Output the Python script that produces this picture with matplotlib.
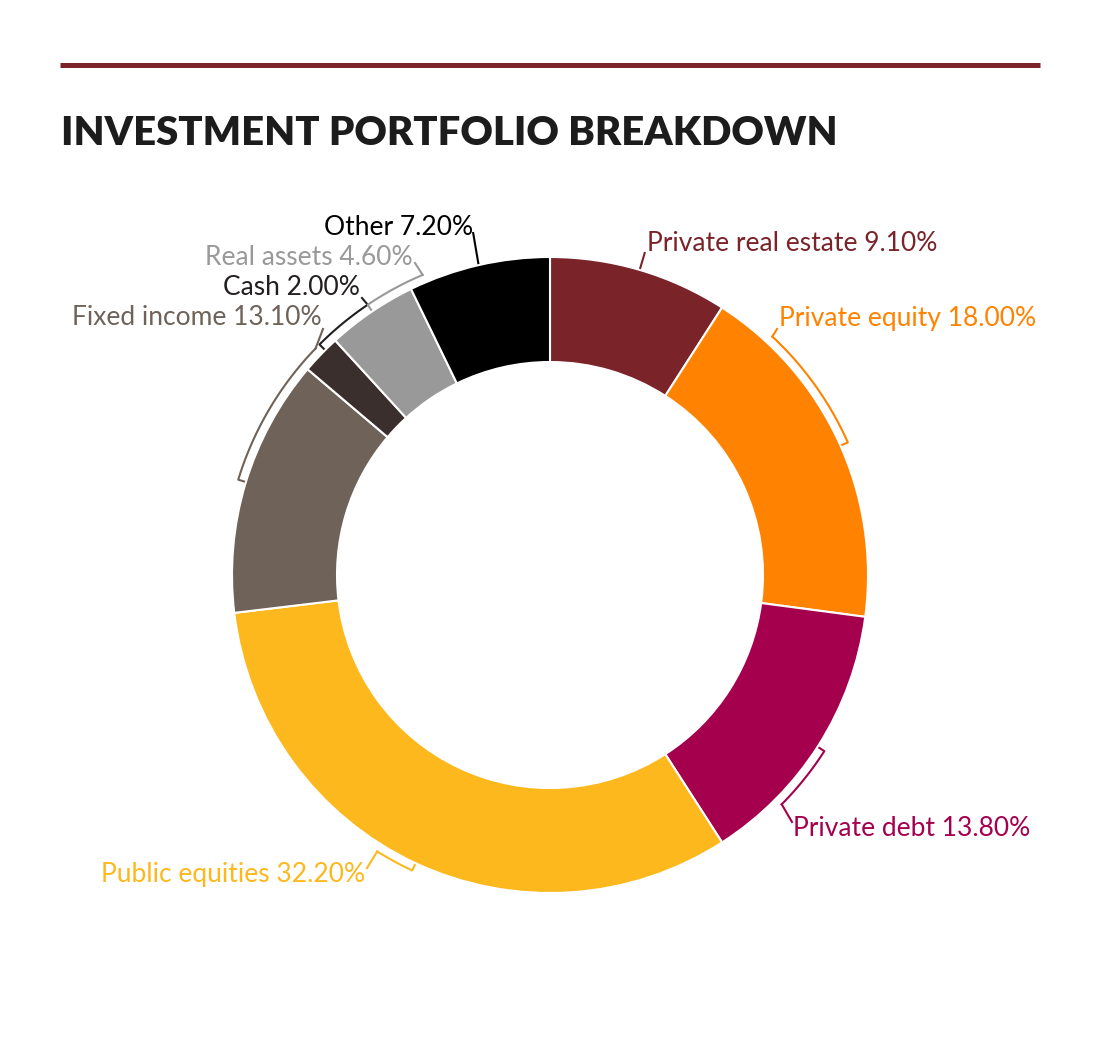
import numpy as np
import matplotlib.pyplot as plt

# data
labels = ["Private real estate", "Private equity", "Private debt", "Public equities",
          "Fixed income", "Cash", "Real assets", "Other"]
shares = [9.1, 18.0, 13.8, 32.2, 13.1, 2.0, 4.6, 7.2]
colors = ["#7a2329", "#ff8200", "#a5004e", "#fdb81e", "#6e6259", "#3a2f2c", "#999999", "#000000"]
text_colors = ["#7a2329", "#ff8200", "#a5004e", "#fdb81e", "#6e6259", "#231f20", "#999999", "#000000"]

# label anchors in pixels (x, baseline y), alignment, bracket span (deg) or None
label_pos = [(647, 251), (779, 326), (793, 836), (365, 882),
             (322, 325), (360, 295), (413, 265), (473, 235)]
label_ha = ["left", "left", "left", "right", "right", "right", "right", "right"]
brackets = [None, (47, 24), (-44.7, -32.7), (-122, -115),
            (136, 163), (124, 135), (113, 124), None]
leader_end = [(645, 252), (777, 329), (792, 822), (367, 868),
              (323, 329), (362, 298), (415, 263), (473, 232)]

W, H = 1100, 1038
cx, cy = 550, H - 575
R_out, R_in = 318, 213
R_br = 326

fig = plt.figure(figsize=(11, 10.38), dpi=100)
ax = fig.add_axes([0, 0, 1, 1])

ax.pie(shares, colors=colors, startangle=90, counterclock=False,
       center=(cx, cy), radius=R_out,
       wedgeprops=dict(width=R_out - R_in, edgecolor="white", linewidth=1.5))
ax.set_xlim(0, W)
ax.set_ylim(0, H)
ax.axis("off")


def pt(a, r):
    a = np.radians(a)
    return cx + r * np.cos(a), cy + r * np.sin(a)


bounds = np.concatenate([[0], np.cumsum(shares)])
for i, lab in enumerate(labels):
    c = text_colors[i]
    ex, ey = leader_end[i][0], H - leader_end[i][1]
    if brackets[i] is None:
        mid = 90 - 3.6 * (bounds[i] + bounds[i + 1]) / 2
        x0, y0 = pt(mid, R_out + 1)
        ax.plot([x0, ex], [y0, ey], color=c, lw=1.5, solid_capstyle="butt")
    else:
        a0, a1 = brackets[i]
        t = np.linspace(a0, a1, 60)
        xs, ys = pt(t, R_br)
        tx, ty = pt(a1, R_out + 2)
        ax.plot(np.r_[xs, tx], np.r_[ys, ty], color=c, lw=1.5)
        ax.plot([xs[0], ex], [ys[0], ey], color=c, lw=1.5)
    ax.text(label_pos[i][0], H - label_pos[i][1], f"{lab} {shares[i]:.2f}%",
            color=c, fontsize=19, family="Lato",
            ha=label_ha[i], va="baseline")

# header rule and title
ax.plot([60, 1040], [H - 64.5, H - 64.5], color="#7a2329", lw=3.6, solid_capstyle="butt")
ax.text(61, H - 145, "INVESTMENT PORTFOLIO BREAKDOWN", fontsize=28.8,
        family="Lato", fontweight="heavy", color="#1c1c1c", ha="left", va="baseline")

fig.savefig("out.png", dpi=100, facecolor="white")
